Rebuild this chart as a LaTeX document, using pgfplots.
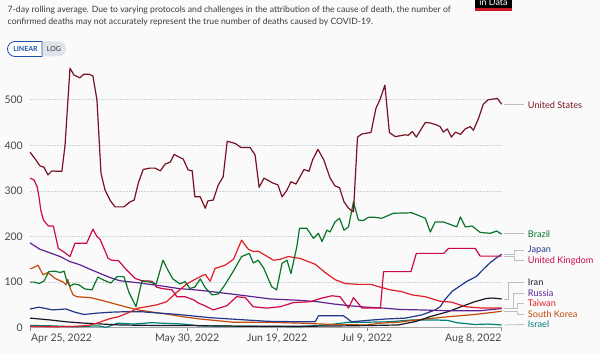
\documentclass[border=0pt]{standalone}
\usepackage{pgfplots}
\pgfplotsset{compat=1.18}
\usepackage{fontspec}
\setmainfont{Lato}
\definecolor{bgc}{RGB}{250,250,250}
\definecolor{hdr}{RGB}{60,60,60}
\definecolor{tickc}{RGB}{70,70,70}
\definecolor{gridc}{RGB}{200,212,222}
\definecolor{conn}{RGB}{190,190,190}
\definecolor{cUS}{RGB}{120,18,35}
\definecolor{cBR}{RGB}{10,115,40}
\definecolor{cJP}{RGB}{35,55,140}
\definecolor{cUK}{RGB}{205,10,70}
\definecolor{cIR}{RGB}{25,25,40}
\definecolor{cRU}{RGB}{95,35,150}
\definecolor{cTW}{RGB}{225,30,40}
\definecolor{cKR}{RGB}{195,75,10}
\definecolor{cIL}{RGB}{0,128,120}
\definecolor{togb}{RGB}{30,80,170}
\definecolor{togg}{RGB}{222,228,234}
\newcommand{\lbl}{\fontsize{9.2}{10}\selectfont}
\begin{document}
\begin{tikzpicture}
\path[use as bounding box, fill=bgc] (0,0) rectangle (600bp,354bp);
% header
\node[anchor=north west, inner sep=0pt, text=hdr, font=\fontsize{8.7}{12.5}\selectfont, align=left] at (7.5bp,348.5bp)
 {7-day rolling average. Due to varying protocols and challenges in the attribution of the cause of death, the number of\\confirmed deaths may not accurately represent the true number of deaths caused by COVID-19.};
% logo fragment
\fill[black] (475bp,346bp) rectangle (512bp,354bp);
\fill[cTW!90!black] (475bp,343.3bp) rectangle (512bp,346bp);
\begin{scope}
\clip (475bp,346bp) rectangle (512bp,354bp);
\node[anchor=base, inner sep=0pt, text=white, font=\fontsize{9}{10}\selectfont] at (493.5bp,348bp) {in Data};
\end{scope}
% toggle
\fill[togg, rounded corners=7.5bp] (7.5bp,297.5bp) rectangle (66bp,312.5bp);
\draw[togb, fill=white, line width=0.8bp] (42bp,297.5bp) -- (15bp,297.5bp) arc[start angle=270, end angle=90, radius=7.5bp] -- (42bp,312.5bp) -- cycle;
\node[text=togb, font=\fontsize{7}{8}\selectfont\bfseries, inner sep=0pt] at (25.5bp,305bp) {LINEAR};
\node[text=black!80, font=\fontsize{7}{8}\selectfont, inner sep=0pt] at (54bp,305bp) {LOG};
\begin{axis}[
 at={(30bp,26.3bp)}, anchor=south west, scale only axis,
 width=471.7bp, height=262.2bp,
 xmin=0, xmax=105, ymin=0, ymax=575,
 clip=false,
 axis x line*=bottom, axis y line*=left,
 x axis line style={draw=black!35, line width=0.8bp},
 y axis line style={draw=none},
 ytick={0,100,200,300,400,500},
 ymajorgrids,
 grid style={gridc, line width=0.8bp, dash pattern=on 1.5bp off 1.5bp},
 ytick style={draw=none},
 xtick={0,35,55,75,105},
 xticklabels={{},{May 30, 2022},{Jun 19, 2022},{Jul 9, 2022},{}},
 tick align=outside,
 xtick style={draw=black!45, line width=0.6bp},
 major tick length=3bp,
 /pgf/number format/assume math mode=true,
 yticklabel style={font=\fontsize{10.5}{12}\selectfont, text=tickc, inner sep=0pt, xshift=-4bp},
 xticklabel style={font=\fontsize{10.5}{12}\selectfont, text=tickc, inner sep=0pt, yshift=-3bp},
 every axis plot/.append style={line width=1.2bp, line join=round},
]
\node[anchor=north west, inner sep=0pt, font=\fontsize{10.5}{12}\selectfont, text=tickc] at (axis cs:0.2,-13) {Apr 25, 2022};
\node[anchor=north east, inner sep=0pt, font=\fontsize{10.5}{12}\selectfont, text=tickc] at (axis cs:105,-13) {Aug 8, 2022};

\addplot[cIL] coordinates {(0,5)(5,4)(10,2)(15,4)(17,1)(19.5,10)(23,8)(27,11)(34,8)(38,4)(50,3)(60,2)(67,7)(71,12)(75,12)(80,13)(85,17)(90,17)(93,16)(95,11)(99,7)(102,8)(105,6)};
\addplot[cKR] coordinates {(0,130)(0.4,130)(1.8,137)(2.9,116)(4.0,121)(5.6,108)(7.4,100)(8.0,94)(8.4,106)(9.0,85)(9.6,72)(10.4,68)(13.4,66)(15.6,61)(18.2,54)(21.2,46)(24.1,39)(26.7,35)(30.4,30)(34.1,24)(37.9,19)(45.3,12)(52.7,12)(60.1,10)(67.6,7)(75.0,6)(78,10)(82,12)(86,17)(93,24)(99,29)(105,36)};
\addplot[cIR] coordinates {(0,21)(4.5,17)(8,13)(12,10)(16,8)(20,6)(27,5)(34,5)(40,4)(50,3)(60,3)(70,4)(77,5)(82,6)(86,14)(89,24)(93,35)(96.5,48)(99,57)(101.5,64)(103,65)(105,63)};
\addplot[cJP] coordinates {(0,41)(2,45)(5,39)(8,41)(10,34)(12,29)(15,32)(18,34)(21,35)(25,35)(26,34)(33,29)(40,22)(48,17)(53,14)(60,13)(63.5,13)(64.2,26)(69.8,26)(71.6,13)(75,16)(79,19)(83.5,21)(87.2,28)(90.2,39)(91.3,46)(92.4,62)(94,80)(95.8,92)(97.3,102)(99.3,112)(101.1,130)(102.6,144)(103.8,153)(105,161)};
\addplot[cRU] coordinates {(0,186)(2.2,172)(4.5,164)(6.7,156)(8.9,145)(11.1,138)(13.4,128)(15.6,119)(17.8,110)(20.0,103)(24.5,98)(26.7,95)(29,92)(33,86)(37.9,82)(40.5,79)(48,70)(53.5,63)(60,60)(64,57)(67.6,52)(71.3,48)(75,45)(78.7,43)(82.4,40)(86.9,39)(93.5,37)(100,37)(105,42)};
\addplot[cTW] coordinates {(0,3)(5,2)(10,3)(13,5)(14.9,10)(17.8,20)(19.7,24)(21.9,33)(24.1,43)(26.0,46)(28.2,50)(30.4,57)(32.7,78)(34.9,96)(37.1,108)(39.0,117)(40.1,102)(41.2,130)(43.4,137)(45.3,150)(47.1,192)(48.6,172)(49.7,167)(50.8,168)(54.2,148)(55.7,150)(57.5,156)(60.1,152)(63.5,139)(65.7,121)(68.0,105)(70.1,97)(73.0,95)(76.0,95)(77.6,90)(80.2,83)(82.8,79)(85.0,72)(88.0,68)(91.3,58)(93.9,56)(96.9,46)(100.6,43)(105,43)};
\addplot[cUK] coordinates {(0,328)(0.9,324)(1.6,309)(2.0,287)(2.4,258)(3.0,236)(4.1,223)(5.2,223)(6.3,174)(7.4,167)(8.9,156)(10.0,185)(12.6,185)(14.0,216)(14.9,200)(15.6,194)(17.4,152)(18.2,148)(19.7,147)(21.2,130)(23.4,108)(24.9,103)(27.1,102)(28.2,89)(29.3,86)(31.6,83)(32.7,68)(34.5,68)(36.4,61)(37.5,54)(38.5,50)(40.8,39)(43.8,48)(46.0,68)(47.9,66)(49.7,46)(52.7,43)(55.7,46)(58.6,55)(62.4,57)(64.6,64)(67.2,70)(69.0,68)(70.9,43)(72.0,66)(73.9,43)(78.0,43)(78.7,123)(84.8,123)(86.0,163)(92.1,163)(93.2,174)(99.1,174)(100.2,157)(105,157)};
\addplot[cBR] coordinates {(0,100)(0.9,100)(2.0,97)(3.1,102)(4.2,123)(5.6,124)(6.7,121)(7.6,124)(8.2,102)(8.9,91)(9.8,96)(10.9,94)(12.2,85)(13.8,83)(15.1,111)(16.5,104)(18.0,98)(19.4,112)(20.9,112)(22.0,78)(23.6,46)(24.9,102)(26.3,101)(28.1,96)(29.6,148)(30.7,126)(31.8,107)(33.4,96)(34.5,101)(35.6,86)(36.7,89)(37.9,107)(39.0,88)(40.5,72)(41.9,74)(43.4,94)(45.2,123)(47.1,156)(48.8,163)(49.7,142)(50.8,148)(52.0,131)(53.8,90)(54.9,83)(56.1,141)(57.2,148)(58.1,119)(59.4,178)(60.0,218)(61.6,218)(63.1,196)(64.2,207)(65.0,189)(66.1,214)(66.8,210)(67.9,232)(68.9,240)(69.9,214)(70.9,221)(72.0,276)(73.1,236)(74.2,235)(75.3,242)(76.8,242)(78.3,240)(80.9,251)(85.0,252)(88.0,240)(89.1,210)(90.2,232)(92.0,232)(93.9,225)(95.0,221)(95.8,243)(96.9,221)(98.4,223)(100.2,209)(102.4,207)(103.9,212)(105,205)};
\addplot[cUS] coordinates {(0,385)(1.3,368)(2.2,355)(3.1,352)(4.0,335)(4.9,344)(5.8,343)(7.1,343)(7.8,400)(8.9,569)(9.8,554)(11.1,548)(12.0,556)(13.1,556)(14.0,552)(14.9,500)(15.8,339)(16.7,302)(17.8,280)(18.9,265)(20.9,265)(22.3,276)(23.2,280)(24.1,317)(25.2,347)(26.7,350)(27.8,350)(29.0,344)(30.1,359)(31.2,363)(32.1,380)(33.0,375)(34.1,370)(35.2,346)(36.1,344)(36.7,287)(37.9,287)(39.0,262)(39.6,278)(40.8,280)(41.9,313)(43.0,331)(43.9,409)(45.7,404)(47.0,395)(49.0,395)(50.1,379)(51.0,308)(52.1,328)(53.9,318)(55.2,313)(56.1,287)(57.1,300)(58.1,320)(59.2,315)(61.0,347)(62.1,343)(62.9,368)(64.1,391)(65.4,368)(66.8,328)(67.9,311)(68.9,307)(69.9,276)(70.9,262)(72.0,254)(72.9,418)(73.9,425)(75.9,428)(77.0,481)(77.9,500)(79.0,532)(80.0,428)(81.3,419)(82.4,421)(83.5,423)(84.2,422)(85.1,430)(86.0,418)(87.1,436)(88.0,450)(89.1,449)(90.4,445)(91.3,441)(92.0,429)(92.9,436)(93.8,418)(94.7,429)(95.8,424)(96.9,436)(98.0,441)(98.7,433)(99.8,458)(100.9,490)(102.0,500)(103.6,502)(104.0,503)(105,490)};

% connectors
\draw[conn, line width=0.8bp] (axis cs:105.6,490) -- (axis cs:110,490);
\draw[conn, line width=0.8bp] (axis cs:105.6,206) -- (axis cs:110,206);
\draw[conn, line width=0.8bp] (axis cs:105.6,161) -- (axis cs:107.8,161) -- (axis cs:107.8,170) -- (axis cs:110,170);
\draw[conn, line width=0.8bp] (axis cs:105.6,157) -- (axis cs:107.8,157) -- (axis cs:107.8,147) -- (axis cs:110,147);
\draw[conn, line width=0.8bp] (axis cs:105.6,63) -- (axis cs:106.6,63) -- (axis cs:106.6,100) -- (axis cs:110,100);
\draw[conn, line width=0.8bp] (axis cs:105.6,43) -- (axis cs:107.6,43) -- (axis cs:107.6,76) -- (axis cs:110,76);
\draw[conn, line width=0.8bp] (axis cs:105.6,42) -- (axis cs:108.6,42) -- (axis cs:108.6,53) -- (axis cs:110,53);
\draw[conn, line width=0.8bp] (axis cs:105.6,36) -- (axis cs:108.6,36) -- (axis cs:108.6,30) -- (axis cs:110,30);
\draw[conn, line width=0.8bp] (axis cs:105.6,6) -- (axis cs:110,7);
% labels
\node[anchor=west, inner sep=0pt, text=cUS, font=\lbl] at (axis cs:110.8,488) {United States};
\node[anchor=west, inner sep=0pt, text=cBR, font=\lbl] at (axis cs:110.8,206) {Brazil};
\node[anchor=west, inner sep=0pt, text=cJP, font=\lbl] at (axis cs:110.8,170) {Japan};
\node[anchor=west, inner sep=0pt, text=cUK, font=\lbl] at (axis cs:110.8,147) {United Kingdom};
\node[anchor=west, inner sep=0pt, text=cIR, font=\lbl] at (axis cs:110.8,100) {Iran};
\node[anchor=west, inner sep=0pt, text=cRU, font=\lbl] at (axis cs:110.8,76) {Russia};
\node[anchor=west, inner sep=0pt, text=cTW, font=\lbl] at (axis cs:110.8,53) {Taiwan};
\node[anchor=west, inner sep=0pt, text=cKR, font=\lbl] at (axis cs:110.8,30) {South Korea};
\node[anchor=west, inner sep=0pt, text=cIL, font=\lbl] at (axis cs:110.8,7) {Israel};
\end{axis}
\end{tikzpicture}
\end{document}
